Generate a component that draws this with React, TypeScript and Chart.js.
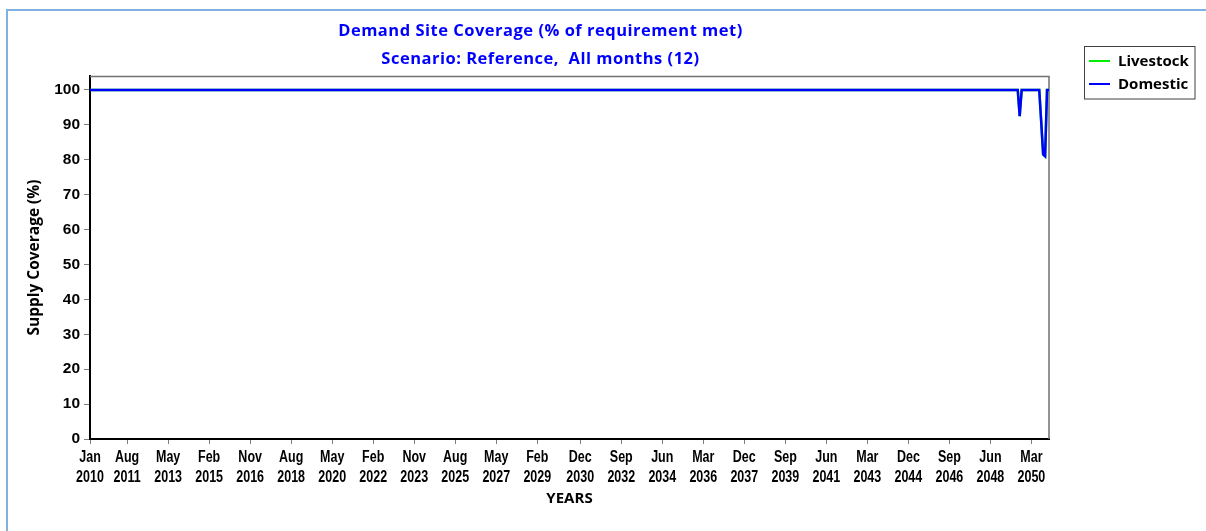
import React, { useEffect, useRef } from "react";
import { Chart, registerables } from "chart.js";

Chart.register(...registerables);

// ---- data ----
const monthNames = ["Jan", "Feb", "Mar", "Apr", "May", "Jun", "Jul", "Aug", "Sep", "Oct", "Nov", "Dec"];
const startYear = 2010;
const monthCount = 492; // Jan 2010 .. Dec 2050

// run-length encoded series values: [value, number of months]
const domesticRuns: [number, number][] = [
  [100, 476],
  [92.5, 1],
  [100, 10],
  [91, 1],
  [81.5, 1],
  [81, 1],
  [100, 2],
];
const livestockRuns: [number, number][] = [
  [100, 476],
  [92.5, 1],
  [100, 10],
  [91, 1],
  [81.5, 1],
  [81, 1],
  [100, 2],
];

const xTickLabels = [
  "Jan 2010", "Aug 2011", "May 2013", "Feb 2015", "Nov 2016", "Aug 2018", "May 2020", "Feb 2022",
  "Nov 2023", "Aug 2025", "May 2027", "Feb 2029", "Dec 2030", "Sep 2032", "Jun 2034", "Mar 2036",
  "Dec 2037", "Sep 2039", "Jun 2041", "Mar 2043", "Dec 2044", "Sep 2046", "Jun 2048", "Mar 2050",
];
const yTickValues = [0, 10, 20, 30, 40, 50, 60, 70, 80, 90, 100];

const titleLines = ["Demand Site Coverage (% of requirement met)", "Scenario: Reference,  All months (12)"];
const seriesNames = ["Livestock", "Domestic"];
const seriesColors = ["#00ee00", "#0000ff"];

const categories: string[] = [];
for (let i = 0; i < monthCount; i++) {
  categories.push(monthNames[i % 12] + " " + (startYear + Math.floor(i / 12)));
}
const expand = (runs: [number, number][]) => {
  const out: number[] = [];
  runs.forEach(([v, n]) => {
    for (let k = 0; k < n; k++) out.push(v);
  });
  return out;
};
const domesticValues = expand(domesticRuns);
const livestockValues = expand(livestockRuns);

const TITLE_FONT = "'Open Sans', 'DejaVu Sans', sans-serif";
const TICK_FONT = "'Liberation Sans', Arial, sans-serif";

const decorPlugin = {
  id: "decor",
  beforeDatasetsDraw(chart: any) {
    const { ctx, chartArea } = chart;
    ctx.save();
    ctx.strokeStyle = "#707070";
    ctx.lineWidth = 1.5;
    ctx.beginPath();
    ctx.moveTo(chartArea.left, chartArea.top + 0.5);
    ctx.lineTo(chartArea.right, chartArea.top + 0.5);
    ctx.lineTo(chartArea.right, chartArea.bottom);
    ctx.stroke();
    ctx.restore();
  },
  afterDraw(chart: any) {
    const { ctx } = chart;
    ctx.save();
    // titles
    ctx.fillStyle = "#0000ff";
    ctx.font = `bold 16.5px ${TITLE_FONT}`;
    ctx.textAlign = "center";
    ctx.textBaseline = "middle";
    (ctx as any).letterSpacing = "0.5px";
    ctx.fillText(titleLines[0], 540.5, 31);
    ctx.fillText(titleLines[1], 540.5, 59);
    (ctx as any).letterSpacing = "0px";

    // x tick labels (narrow bold)
    const xs = chart.scales.x;
    ctx.fillStyle = "#000";
    ctx.font = `bold 16px ${TICK_FONT}`;
    ctx.textAlign = "center";
    ctx.textBaseline = "middle";
    xTickLabels.forEach((lab) => {
      const idx = categories.indexOf(lab);
      if (idx < 0) return;
      const px = xs.getPixelForValue(idx);
      const parts = lab.split(" ");
      ctx.save();
      ctx.translate(px, 0);
      ctx.scale(0.78, 1);
      ctx.fillText(parts[0], 0, 458);
      ctx.fillText(parts[1], 0, 478);
      ctx.restore();
    });

    // legend
    ctx.strokeStyle = "#404040";
    ctx.lineWidth = 1;
    ctx.strokeRect(1084.5, 46.5, 110.5, 52.5);
    const ys = [61, 84];
    seriesNames.forEach((name, i) => {
      ctx.strokeStyle = seriesColors[i];
      ctx.lineWidth = 2;
      ctx.beginPath();
      ctx.moveTo(1089, ys[i]);
      ctx.lineTo(1110, ys[i]);
      ctx.stroke();
      ctx.fillStyle = "#000";
      ctx.font = `bold 15px ${TITLE_FONT}`;
      ctx.textAlign = "left";
      ctx.textBaseline = "middle";
      ctx.fillText(name, 1118, ys[i] + 0.5);
    });
    ctx.restore();
  },
};

export default function App() {
  const ref = useRef<HTMLCanvasElement | null>(null);

  useEffect(() => {
    if (!ref.current) return;
    const chart = new Chart(ref.current, {
      type: "line",
      data: {
        labels: categories,
        datasets: [
          {
            label: seriesNames[0],
            data: livestockValues,
            borderColor: seriesColors[0],
            borderWidth: 2.5,
            pointRadius: 0,
            tension: 0,
            order: 1,
          },
          {
            label: seriesNames[1],
            data: domesticValues,
            borderColor: seriesColors[1],
            borderWidth: 2.5,
            pointRadius: 0,
            tension: 0,
            order: 0,
          },
        ],
      },
      options: {
        responsive: false,
        animation: false,
        layout: { padding: { left: 0, top: 76, right: 157, bottom: 0 } },
        plugins: {
          legend: { display: false },
          title: { display: false },
          tooltip: { enabled: false },
        },
        scales: {
          x: {
            type: "category",
            offset: false,
            afterBuildTicks: (scale: any) => {
              scale.ticks = scale.ticks.filter((t: any) => xTickLabels.includes(categories[t.value]));
            },
            afterFit: (scale: any) => {
              scale.height = 92;
            },
            grid: {
              display: true,
              drawOnChartArea: false,
              drawTicks: true,
              tickLength: 5,
              color: "#808080",
            },
            border: { display: true, color: "#000", width: 2 },
            ticks: {
              display: false,
              autoSkip: false,
              maxRotation: 0,
              minRotation: 0,
            },
            title: {
              display: true,
              text: "YEARS",
              color: "#000",
              font: { family: TITLE_FONT, size: 15, weight: "bold" },
              padding: { top: 0, bottom: 23 },
            },
          },
          y: {
            min: 0,
            max: 104,
            afterBuildTicks: (scale: any) => {
              scale.ticks = yTickValues.map((v) => ({ value: v }));
            },
            afterFit: (scale: any) => {
              scale.width = 90;
            },
            grid: {
              display: true,
              drawOnChartArea: false,
              drawTicks: true,
              tickLength: 6,
              color: "#808080",
            },
            border: { display: true, color: "#000", width: 2 },
            ticks: {
              padding: 4,
              color: "#000",
              font: { family: TICK_FONT, size: 15.5, weight: "bold" },
            },
            title: {
              display: true,
              text: "Supply Coverage (%)",
              color: "#000",
              font: { family: TITLE_FONT, size: 15.5, weight: "bold" },
              padding: { top: 25, bottom: 0 },
            },
          },
        },
      },
      plugins: [decorPlugin],
    });
    return () => chart.destroy();
  }, []);

  return (
    <div style={{ position: "absolute", left: 0, top: 0, width: 1206, height: 531, background: "#fff", overflow: "hidden" }}>
      <div
        style={{
          position: "absolute",
          left: 6,
          top: 9,
          width: 1300,
          height: 600,
          borderLeft: "2px solid #7fb1e3",
          borderTop: "2px solid #7fb1e3",
        }}
      />
      <canvas ref={ref} width={1206} height={531} style={{ position: "absolute", left: 0, top: 0, width: 1206, height: 531 }} />
    </div>
  );
}
